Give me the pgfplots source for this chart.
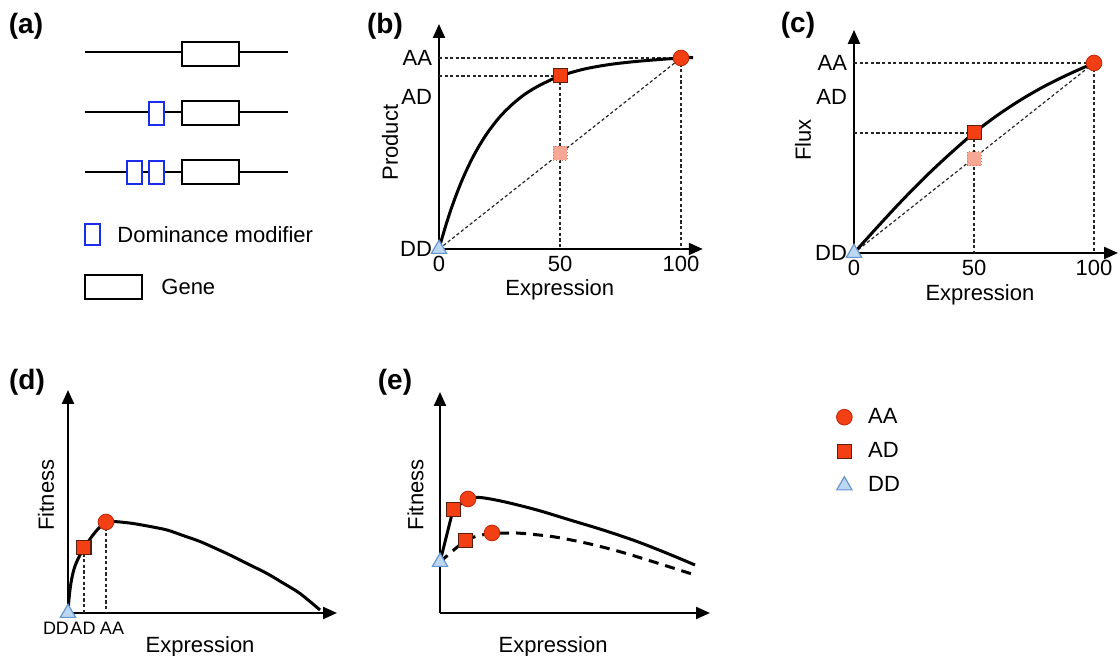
\documentclass[border=0pt]{standalone}
\usepackage{pgfplots}
\pgfplotsset{compat=1.18}
\usetikzlibrary{arrows.meta}
\usepackage{fontspec}
\setmainfont{Liberation Sans}

\definecolor{redfill}{RGB}{242,64,20}
\definecolor{rededge}{RGB}{200,45,15}
\definecolor{sqedge}{RGB}{90,30,15}
\definecolor{pinkfill}{RGB}{246,168,148}
\definecolor{pinkedge}{RGB}{225,110,90}
\definecolor{trifill}{RGB}{190,215,240}
\definecolor{triedge}{RGB}{100,150,210}
\definecolor{modblue}{RGB}{25,45,235}

\newcommand{\lab}{\fontsize{11}{13}\selectfont}
\newcommand{\ttl}{\bfseries\fontsize{14}{16}\selectfont}

\pgfplotsset{
  panel/.style={
    anchor=south west,
    axis lines*=left,
    axis line style={line width=1.1pt, -{Triangle[length=7pt,width=6pt]}},
    enlargelimits=false, clip=false,
    major tick length=0pt,
    tick label style={font=\lab},
    label style={font=\lab},
  },
  guide/.style={black!85, line width=0.6pt, dash pattern=on 1.6pt off 1.2pt},
  curve/.style={black, line width=1.5pt, smooth},
  AA/.style={only marks, mark=*, mark size=3.9pt,
    mark options={fill=redfill, draw=rededge, line width=0.5pt, solid}},
  AD/.style={only marks, mark=square*, mark size=3.5pt,
    mark options={fill=redfill, draw=sqedge, line width=0.5pt, solid}},
  ADlin/.style={only marks, mark=square*, mark size=3.5pt,
    mark options={fill=pinkfill, draw=pinkedge, line width=0.5pt, densely dotted}},
  DD/.style={only marks, mark=triangle*, mark size=4.4pt,
    mark options={fill=trifill, draw=triedge, line width=0.6pt, solid}},
}

\begin{document}
\begin{tikzpicture}
\useasboundingbox (0,0) rectangle (560pt,328pt);

% page layer: panel (a) and panel titles, in pixel units
\begin{axis}[anchor=south west, at={(0,0)}, x=0.5pt, y=0.5pt,
  xmin=0, xmax=1120, ymin=0, ymax=656,
  hide axis, clip=false, enlargelimits=false]
% chromosome lines
\addplot[black, line width=1.2pt] coordinates {(85,604) (288,604)};
\addplot[black, line width=1.2pt] coordinates {(85,544) (288,544)};
\addplot[black, line width=1.2pt] coordinates {(85,484) (288,484)};
% genes
\addplot[black, line width=1.3pt, fill=white] coordinates {(182,590) (239,590) (239,614) (182,614)} -- cycle;
\addplot[black, line width=1.3pt, fill=white] coordinates {(182,531) (239,531) (239,555) (182,555)} -- cycle;
\addplot[black, line width=1.3pt, fill=white] coordinates {(182,472) (239,472) (239,496) (182,496)} -- cycle;
% dominance modifiers
\addplot[modblue, line width=1.1pt, fill=white] coordinates {(149,531) (164,531) (164,554) (149,554)} -- cycle;
\addplot[modblue, line width=1.1pt, fill=white] coordinates {(127,472) (142,472) (142,495) (127,495)} -- cycle;
\addplot[modblue, line width=1.1pt, fill=white] coordinates {(149,472) (164,472) (164,495) (149,495)} -- cycle;
% key
\addplot[modblue, line width=1.1pt, fill=white] coordinates {(85,411) (100,411) (100,432) (85,432)} -- cycle;
\addplot[black, line width=1.3pt, fill=white] coordinates {(85,357) (142,357) (142,381) (85,381)} -- cycle;
\node[anchor=west, inner sep=0pt, font=\lab] at (axis cs:117,421) {Dominance modifier};
\node[anchor=west, inner sep=0pt, font=\lab] at (axis cs:161,369) {Gene};
% panel titles
\node[font=\ttl] at (axis cs:26,630) {(a)};
\node[font=\ttl] at (axis cs:385,630) {(b)};
\node[font=\ttl] at (axis cs:798,631) {(c)};
\node[font=\ttl] at (axis cs:27,274) {(d)};
\node[font=\ttl] at (axis cs:395,274) {(e)};
\end{axis}

% (b) product vs expression
\begin{axis}[panel, at={(219.5pt,203.5pt)}, x=1.21pt, y=95.5pt,
  xmin=0, xmax=109, ymin=0, ymax=1.178,
  xtick={0,50,100}, xticklabels={0,50,100},
  ytick={0,0.796,1}, yticklabels={DD,AD,AA},
  xlabel={Expression}, ylabel={Product},
  xlabel style={at={(axis description cs:0.458,-0.1825)}, anchor=center},
  ylabel style={at={(axis description cs:-0.186,0.473)}, anchor=center},
]
\addplot[guide] coordinates {(0,1) (100,1)};
\addplot[guide] coordinates {(0,0.906) (50,0.906)};
\addplot[guide] coordinates {(50,0.906) (50,0)};
\addplot[guide] coordinates {(100,1) (100,0)};
\addplot[guide] coordinates {(0,0) (100,1)};
\addplot[curve] coordinates {
  (0,0) (1,0.046) (2,0.089) (3,0.131) (5,0.209) (7.5,0.296) (10,0.374)
  (13,0.456) (16,0.527) (20,0.608) (25,0.690) (30,0.754) (35,0.806)
  (40,0.846) (45,0.878) (50,0.906) (60,0.942) (70,0.965) (80,0.980)
  (90,0.991) (100,1.0) (105,1.002)};
\addplot[ADlin] coordinates {(50,0.5)};
\addplot[AD] coordinates {(50,0.906)};
\addplot[AA] coordinates {(100,1)};
\addplot[DD] coordinates {(0,0)};
\end{axis}

% (c) flux vs expression
\begin{axis}[panel, at={(427pt,201.5pt)}, x=1.2pt, y=95pt,
  xmin=0, xmax=110, ymin=0, ymax=1.174,
  xtick={0,50,100}, xticklabels={0,50,100},
  ytick={0,0.821,1}, yticklabels={DD,AD,AA},
  xlabel={Expression}, ylabel={Flux},
  xlabel style={at={(axis description cs:0.477,-0.188)}, anchor=center},
  ylabel style={at={(axis description cs:-0.193,0.507)}, anchor=center},
]
\addplot[guide] coordinates {(0,1) (100,1)};
\addplot[guide] coordinates {(0,0.632) (50,0.632)};
\addplot[guide] coordinates {(50,0.632) (50,0)};
\addplot[guide] coordinates {(100,1) (100,0)};
\addplot[guide] coordinates {(0,0) (100,1)};
\addplot[curve] coordinates {
  (0,0) (10,0.140) (20,0.276) (30,0.404) (40,0.522) (50,0.632)
  (60,0.727) (70,0.810) (80,0.882) (90,0.944) (100,1.0)};
\addplot[ADlin] coordinates {(50,0.495)};
\addplot[AD] coordinates {(50,0.632)};
\addplot[AA] coordinates {(100,1)};
\addplot[DD] coordinates {(0,0)};
\end{axis}

% (d) fitness vs expression
\begin{axis}[panel, at={(34pt,21.5pt)}, x=0.5pt, y=0.5pt,
  xmin=0, xmax=269, ymin=0, ymax=223,
  xtick=\empty, ytick=\empty,
  xlabel={Expression}, ylabel={Fitness},
  xlabel style={at={(axis description cs:0.491,-0.152)}, anchor=center},
  ylabel style={at={(axis description cs:-0.082,0.529)}, anchor=center},
]
\addplot[guide] coordinates {(16,65) (16,0)};
\addplot[guide] coordinates {(38,91) (38,0)};
\addplot[curve] coordinates {
  (0,0) (1,14) (2.5,27) (4.5,38) (7,47) (10,54) (13,60) (16,65) (20,71)
  (25,78) (30,84) (34,88) (38,91) (44,91.5) (52,91) (65,89.5) (82,86.5)
  (99,83) (115,77.5) (132,71.5) (150,63.5) (165,56.5) (182,48) (199,39.5)
  (215,30) (232,19.5) (252,3)};
\addplot[AD] coordinates {(16,65)};
\addplot[AA] coordinates {(38,91)};
\addplot[DD] coordinates {(0,0)};
\node[font=\fontsize{9}{11}\selectfont] at (axis cs:-12,-15) {DD};
\node[font=\fontsize{9}{11}\selectfont] at (axis cs:15,-15) {AD};
\node[font=\fontsize{9}{11}\selectfont] at (axis cs:44,-15) {AA};
\end{axis}

% (e) fitness vs expression, two backgrounds
\begin{axis}[panel, at={(220pt,21.5pt)}, x=0.5pt, y=0.5pt,
  xmin=0, xmax=270, ymin=0, ymax=221,
  xtick=\empty, ytick=\empty,
  xlabel={Expression}, ylabel={Fitness},
  xlabel style={at={(axis description cs:0.419,-0.154)}, anchor=center},
  ylabel style={at={(axis description cs:-0.091,0.534)}, anchor=center},
  legend style={draw=none, fill=none, font=\lab, row sep=4pt, column sep=6pt,
    at={(axis description cs:1.445,0.965)}, anchor=north west},
  legend cell align=left,
]
\addlegendimage{AA}
\addlegendimage{AD}
\addlegendimage{DD}
\addplot[black, line width=1.5pt] coordinates {(0,51) (13,103)};
\addplot[curve] coordinates {
  (13,103) (28,114) (40,115.5) (63,111.5) (97,103) (130,93) (163,83)
  (197,71.5) (230,58.5) (255,48)};
\addplot[black, line width=1.5pt, smooth, dash pattern=on 5pt off 3.5pt] coordinates {
  (0,51) (25,72) (40,77.5) (52,79.5) (70,80) (81,79.7) (113,76.3)
  (147,69.7) (180,61.3) (213,51.3) (255,38)};
\addplot[AD] coordinates {(13,103)};
\addplot[AA] coordinates {(28,114)};
\addplot[AD] coordinates {(25,72)};
\addplot[AA] coordinates {(52,80)};
\addplot[DD] coordinates {(0,51)};
\legend{AA,AD,DD}
\end{axis}
\end{tikzpicture}
\end{document}
